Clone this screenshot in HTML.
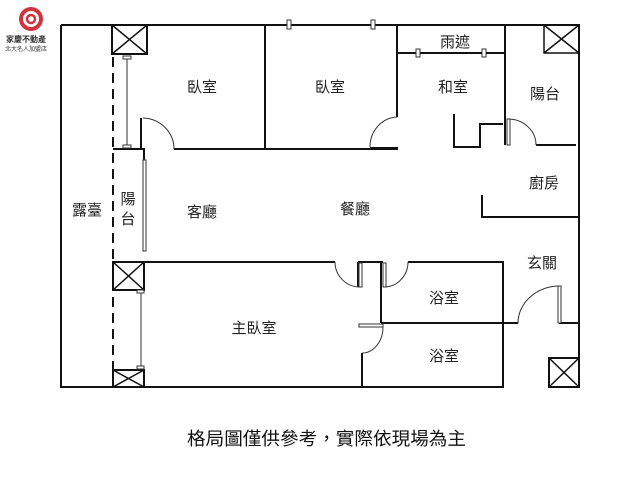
<!DOCTYPE html>
<html><head><meta charset="utf-8"><style>html,body{margin:0;padding:0;background:#fff}svg{display:block}</style></head>
<body>
<svg width="640" height="480" viewBox="0 0 640 480" xmlns="http://www.w3.org/2000/svg" font-family="Liberation Sans, Noto Sans CJK TC, sans-serif">
<rect width="640" height="480" fill="#fff"/>
<!-- logo -->
<circle cx="31" cy="19" r="10" fill="none" stroke="#d0343f" stroke-width="4"/>
<circle cx="31" cy="19" r="4" fill="none" stroke="#d0343f" stroke-width="2.5"/>
<text x="26" y="42" font-size="8" text-anchor="middle" fill="#333" font-weight="bold">家慶不動產</text>
<text x="26" y="51" font-size="6" text-anchor="middle" fill="#333">北大名人加盟店</text>
<g stroke="#111" stroke-width="2" fill="none">
<!-- outer -->
<path d="M61 25 H579 V387 M61 25 V387 H144 M144 387 H362 M362 387 H503 V323"/>
<!-- top-left X box -->
<rect x="112" y="25" width="35" height="29"/>
<path d="M112 25 L147 54 M147 25 L112 54" stroke-width="1.5"/>
<!-- upper right X box -->
<path d="M544 25 V53 H579 M544 25 L579 53 M579 25 L544 53" stroke-width="1.5"/>
<!-- bedrooms -->
<path d="M113 149 H144 V162 M141 118 V149 M174 149 H398 M265 25 V150 M397 25 V117 M370 148 H398"/>
<path d="M397 53 H505 M505 25 V145"/>
<path d="M454 114 V147 H480 V124 H503"/>
<path d="M536 145 H576"/>
<path d="M482 195 V217 H579"/>
<!-- middle -->
<path d="M144 262 H335 M358 262 V287 M358 262 H383 M381 262 V323 M408 262 H503 V323 M381 323 H518 M560 286 V323 H579 M362 353 V387"/>
<!-- left X boxes -->
<rect x="113" y="262" width="31" height="28"/>
<path d="M113 262 L144 290 M144 262 L113 290" stroke-width="1.5"/>
<rect x="113" y="370" width="31" height="17"/>
<path d="M113 370 L144 387 M144 370 L113 387" stroke-width="1.5"/>
<!-- lower right X box -->
<rect x="549" y="358" width="30" height="29"/>
<path d="M549 358 L579 387 M579 358 L549 387" stroke-width="1.5"/>
</g>
<!-- dashed -->
<line x1="113" y1="57" x2="113" y2="387" stroke="#111" stroke-width="2" stroke-dasharray="10,6"/>
<!-- thin windows -->
<g stroke="#333" stroke-width="1" fill="#fff">
<line x1="127" y1="57" x2="127" y2="146"/>
<rect x="123" y="56" width="8" height="3"/><rect x="123" y="145" width="8" height="3"/>
<line x1="141" y1="290" x2="141" y2="368"/>
<rect x="137" y="290" width="7" height="3"/><rect x="137" y="366" width="7" height="3"/>
<rect x="143" y="160" width="3" height="91"/>
<rect x="287" y="20" width="4" height="9"/><rect x="371" y="20" width="4" height="9"/>
<rect x="416" y="49" width="4" height="8"/><rect x="482" y="49" width="4" height="8"/>
<rect x="507" y="119" width="3" height="26"/>
<rect x="359" y="324" width="24" height="3"/>
<rect x="359" y="263" width="3" height="24"/><rect x="383" y="263" width="3" height="24"/>
<rect x="558" y="286" width="3" height="37"/>
</g>
<!-- arcs -->
<g stroke="#333" stroke-width="1" fill="none">
<path d="M143 118 A32 31 0 0 1 174 149"/>
<path d="M397 117 A28 30 0 0 0 370 147"/>
<path d="M509 119 A28 26 0 0 1 536 145"/>
<path d="M335 262 A25 25 0 0 0 360 287"/>
<path d="M385 287 A24 25 0 0 0 408 262"/>
<path d="M383 327 A21 26 0 0 1 362 353"/>
<path d="M560 286 A42 37 0 0 0 518 323"/>
</g>
<g font-size="15" fill="#222" text-anchor="middle">
<text x="202" y="92">臥室</text>
<text x="330" y="92">臥室</text>
<text x="455" y="47">雨遮</text>
<text x="453" y="92">和室</text>
<text x="545" y="99">陽台</text>
<text x="544" y="188">廚房</text>
<text x="87" y="215">露臺</text>
<text x="128" y="204">陽</text>
<text x="128" y="224">台</text>
<text x="202" y="217">客廳</text>
<text x="355" y="214">餐廳</text>
<text x="542" y="268">玄關</text>
<text x="444" y="303">浴室</text>
<text x="444" y="361">浴室</text>
<text x="254" y="333">主臥室</text>
</g>
<text x="187" y="445" font-size="18" fill="#111" textLength="279" lengthAdjust="spacingAndGlyphs">格局圖僅供參考，實際依現場為主</text>
</svg>
</body></html>
